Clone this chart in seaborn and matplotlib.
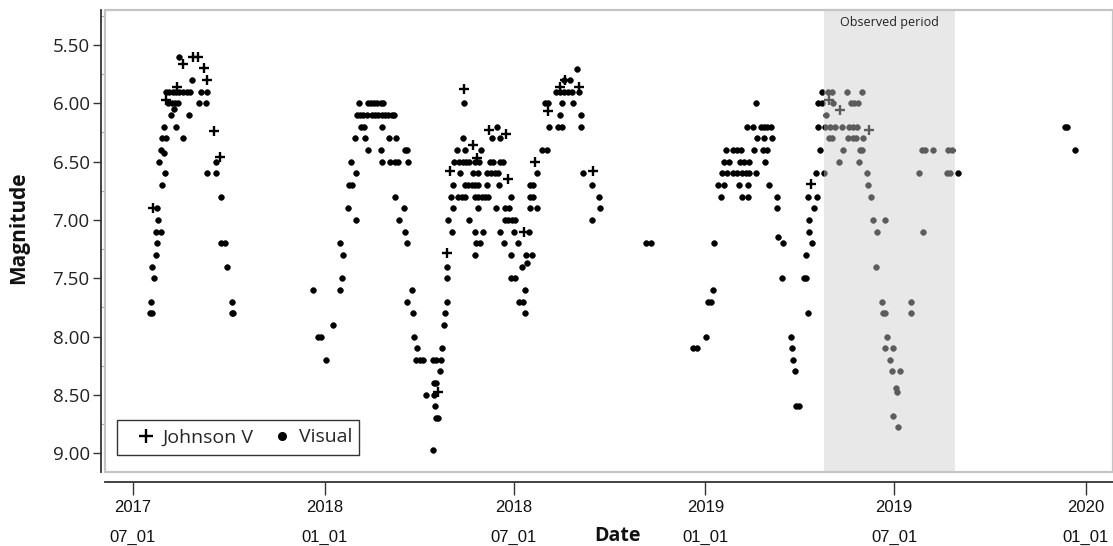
import numpy as np
import pandas as pd
import matplotlib
matplotlib.use("Agg")
import matplotlib.pyplot as plt
from matplotlib import font_manager as fm
from matplotlib.lines import Line2D
from matplotlib.patches import Rectangle
from matplotlib.ticker import MultipleLocator
import seaborn as sns

# ---------------- data (days since 2017-07-01, magnitude) ----------------
base_date = "2017-07-01"

visual_day = [
    # 2017 season
    44, 57,
    32, 35, 38, 41.5, 44.6, 47.8, 51.6, 54.8, 65, 70.7,
    34, 37, 40, 43.5, 63.3, 70,
    39.3, 36.4, 53.7, 30, 41, 28, 31.3, 47.6, 26.5, 29.7, 25.2, 79.3,
    31, 71, 79.3, 27.5, 84.4, 23.3, 24.3, 22.3, 26.8, 23, 84.4, 88.3,
    22, 17.9, 90.5, 19.8, 17.3, 95.3, 16, 17.8, 94.6, 96.2,
    # 2018 first season
    173, 177, 180, 185, 192, 198.6, 200, 201, 199, 206, 213.6, 207, 210, 214, 209,
    225, 237.6, 261, 263,
    213, 222.5, 245.5, 252.3,
    218.4, 221.6, 238.5,
    214.5, 217.7, 221, 224.8, 229, 232, 235, 238.5, 241.7, 245, 248, 250.3,
    217, 225, 228, 231, 234.4, 237.6, 240,
    238.5, 246.5, 251.3, 254.5, 264,
    251.3, 260, 255.5, 261, 262.5, 267.3, 262.5, 269, 269.5, 272,
    271.5, 275.3, 278, 287.4, 291, 295,
    296, 294, 288.7, 290.5, 281, 288.7, 289.7, 291, 292.2, 288, 298.3, 299,
    # 2018 second season
    317.7, 316.1, 310.4, 318.4, 333.7,
    308.1, 313, 316.1, 319.3, 322.5, 328, 332.1, 342.3, 345, 352, 355.1,
    313.6, 326.4, 331.1, 339.1, 343, 347.1, 350.3,
    348.7, 344, 352,
    307.2, 318.4, 321.6, 324.8, 328, 331.1, 339.1, 351,
    304.6, 312, 315.2, 318.4, 328, 331.1, 334.4, 337.5, 340.7, 362.2,
    306.5, 331.1, 348.1, 356.7, 360.9,
    301.7, 322.5, 356.7, 360, 363.1, 366.3,
    305.6, 328, 335.3, 352, 365.7, 380,
    329, 332.7, 355.8, 369.5,
    328, 362.2, 376.9, 382.3,
    300.8, 372.7, 378,
    300.8, 362.2, 366.3,
    375.9, 301.4, 370.5, 373.7, 376.2,
    380.7, 384, 380.7, 384, 380.7, 387, 387.7, 391.9, 396.7,
    395, 398.3, 411.7, 422.3,
    398.9, 407.9, 411.7, 429.6,
    409.5, 429.6,
    405.6, 409.5, 413.3, 417.5, 420.7, 428,
    413.3, 419, 426.1,
    431.9, 439.8, 446.9, 447.8, 439.8,
    492, 497,
    # 2019 season
    537.4, 540.5, 549.2, 551, 554, 555.9, 557.5, 597.5,
    588.5, 595, 602, 605.2, 608.4, 611.6,
    598, 605.2, 612.5,
    568.4, 575, 579, 583.1, 595.6, 604.5, 608.4,
    567.1, 572, 582.1, 586, 591.1, 606.1,
    564.6, 569.4, 575.8, 579.6, 583.7, 587.6, 591.1, 597.5,
    561.4, 567.1, 581.2, 590.1, 610.3,
    563.6, 583.7, 590.1, 617.3,
    618, 618.9, 623.7, 622.7,
    631, 631.7, 632.7, 634.9, 636, 638.5,
    647, 643.5, 645.5, 645.5, 650.9, 648.7, 648.7, 653.1, 647.7, 656.3,
    655, 662.7, 658.9, 657.3, 657.3, 661.1, 661.1,
    # observed period
    666.9, 670.7, 684.5, 698.8,
    671, 688.3, 691.5, 695.6,
    664.6,
    663.7, 668.5, 673.3, 679.7, 687, 690.9, 694.7,
    667.8, 670.7, 686.1, 690.2, 693.4, 700.4,
    680.6, 697.2, 698.8, 756.4, 759.6, 767.6, 782, 785.2,
    677.4, 696.6,
    703.6, 754.2, 780.4, 783.6, 790.9,
    705.2, 707.5, 710, 721.2, 713.9, 757.3, 712.6,
    718, 745.9, 719, 721.6, 745.9, 723.5, 721.2, 728.6, 726,
    727.6, 735.6, 731.8, 733.1, 729.2, 734,
    # late 2019
    893.8, 896, 903.4,
]

visual_mag = [
    # 2017 season
    5.6, 5.8,
    5.9, 5.9, 5.9, 5.9, 5.9, 5.9, 5.9, 5.9, 5.9, 5.9,
    6.0, 6.0, 6.0, 6.0, 6.0, 6.0,
    6.05, 6.1, 6.1, 6.2, 6.2, 6.3, 6.3, 6.3, 6.4, 6.43, 6.5, 6.5,
    6.6, 6.6, 6.6, 6.7, 6.8, 6.9, 7.0, 7.1, 7.1, 7.2, 7.2, 7.2,
    7.3, 7.4, 7.4, 7.5, 7.7, 7.7, 7.8, 7.8, 7.8, 7.8,
    # 2018 first season
    7.6, 8.0, 8.0, 8.2, 7.9, 7.6, 7.5, 7.3, 7.2, 6.9, 7.0, 6.7, 6.7, 6.6, 6.5,
    6.4, 6.4, 6.4, 6.4,
    6.3, 6.3, 6.3, 6.3,
    6.2, 6.2, 6.2,
    6.1, 6.1, 6.1, 6.1, 6.1, 6.1, 6.1, 6.1, 6.1, 6.1, 6.1, 6.1,
    6.0, 6.0, 6.0, 6.0, 6.0, 6.0, 6.0,
    6.5, 6.5, 6.5, 6.5, 6.5,
    6.8, 6.9, 7.0, 7.1, 7.2, 7.6, 7.7, 7.8, 8.0, 8.1,
    8.2, 8.2, 8.2, 8.2, 8.2, 8.2,
    8.1, 8.3, 8.4, 8.4, 8.5, 8.5, 8.6, 8.7, 8.7, 8.97, 7.9, 7.8,
    # 2018 second season
    6.0, 6.3, 6.4, 6.4, 6.4,
    6.5, 6.5, 6.5, 6.5, 6.5, 6.5, 6.5, 6.5, 6.5, 6.5, 6.5,
    6.6, 6.6, 6.6, 6.6, 6.6, 6.6, 6.6,
    6.2, 6.3, 6.3,
    6.7, 6.7, 6.7, 6.7, 6.7, 6.7, 6.7, 6.7,
    6.8, 6.8, 6.8, 6.8, 6.8, 6.8, 6.8, 6.8, 6.8, 6.8,
    6.9, 6.9, 6.9, 6.9, 6.9,
    7.0, 7.0, 7.0, 7.0, 7.0, 7.0,
    7.1, 7.1, 7.1, 7.1, 7.1, 7.1,
    7.2, 7.2, 7.2, 7.2,
    7.3, 7.3, 7.3, 7.3,
    7.4, 7.4, 7.37,
    7.5, 7.5, 7.5,
    7.6, 7.7, 7.7, 7.7, 7.8,
    6.7, 6.7, 6.8, 6.8, 6.9, 6.9, 6.6, 6.4, 6.4,
    6.0, 6.0, 6.0, 6.0,
    6.2, 6.2, 6.2, 6.2,
    6.1, 6.1,
    5.9, 5.9, 5.9, 5.9, 5.9, 5.9,
    5.8, 5.8, 5.71,
    6.6, 6.7, 6.8, 6.9, 7.0,
    7.2, 7.2,
    # 2019 season
    8.1, 8.1, 8.0, 7.7, 7.7, 7.6, 7.2, 6.0,
    6.2, 6.2, 6.2, 6.2, 6.2, 6.2,
    6.3, 6.3, 6.3,
    6.4, 6.4, 6.4, 6.4, 6.4, 6.4, 6.4,
    6.5, 6.5, 6.5, 6.5, 6.5, 6.5,
    6.6, 6.6, 6.6, 6.6, 6.6, 6.6, 6.6, 6.6,
    6.7, 6.7, 6.7, 6.7, 6.7,
    6.8, 6.8, 6.8, 6.8,
    6.9, 7.15, 7.2, 7.5,
    8.0, 8.1, 8.2, 8.3, 8.6, 8.6,
    7.8, 7.5, 7.5, 7.3, 7.2, 7.1, 7.0, 6.9, 6.8, 6.8,
    6.6, 6.6, 6.4, 6.2, 6.0, 6.0, 5.9,
    # observed period
    5.9, 5.9, 5.9, 5.9,
    6.0, 6.0, 6.0, 6.0,
    6.1,
    6.2, 6.2, 6.2, 6.2, 6.2, 6.2, 6.2,
    6.3, 6.3, 6.3, 6.3, 6.3, 6.3,
    6.4, 6.4, 6.4, 6.4, 6.4, 6.4, 6.4, 6.4,
    6.5, 6.5,
    6.6, 6.6, 6.6, 6.6, 6.6,
    6.7, 6.8, 7.0, 7.0, 7.1, 7.1, 7.4,
    7.7, 7.7, 7.8, 7.8, 7.8, 8.0, 8.1, 8.1, 8.2,
    8.3, 8.3, 8.44, 8.48, 8.68, 8.78,
    # late 2019
    6.2, 6.2, 6.4,
]

johnson_day = [57.2, 62.7, 48.2, 68.4, 70.7, 42.5, 31.7, 78, 83.4, 19.5,
               300.9, 292.9,
               317.7, 325.7, 330.2, 304, 341.7, 357.4, 360, 375.3, 385.5,
               397.6, 409.5, 427.4, 414.6, 441.4,
               650, 667.8, 678.1, 705.9]
johnson_mag = [5.6, 5.6, 5.66, 5.7, 5.8, 5.86, 5.97, 6.24, 6.46, 6.9,
               7.28, 8.48,
               5.88, 6.36, 6.47, 6.58, 6.23, 6.26, 6.65, 7.1, 6.5,
               6.07, 5.86, 5.86, 5.8, 6.58,
               6.69, 5.97, 6.06, 6.23]

observed_start_day = 663
observed_end_day = 788

tick_dates = ["2017-07-01", "2018-01-01", "2018-07-01", "2019-01-01", "2019-07-01", "2020-01-01"]
tick_years = ["2017", "2018", "2018", "2019", "2019", "2020"]
tick_days = ["07_01", "01_01", "07_01", "01_01", "07_01", "01_01"]
y_ticks = [5.5, 6.0, 6.5, 7.0, 7.5, 8.0, 8.5, 9.0]

# ---------------- build frames ----------------
t0 = pd.Timestamp(base_date)
def to_date(days):
    return t0 + pd.to_timedelta(np.asarray(days, dtype=float), unit="D")

vis = pd.DataFrame({"date": to_date(visual_day), "mag": visual_mag})
jv = pd.DataFrame({"date": to_date(johnson_day), "mag": johnson_mag})

# ---------------- plot ----------------
sns.set_theme(style="white")
plt.rcParams["font.family"] = ["Open Sans", "DejaVu Sans"]

avail = {f.name for f in fm.fontManager.ttflist}
if "Liberation Sans Narrow" in avail:
    xfont, xsize = "Liberation Sans Narrow", 14.5
else:
    xfont, xsize = "Liberation Sans", 12

W, H = 1113, 546
fig = plt.figure(figsize=(W / 100, H / 100), dpi=100)
ax = fig.add_axes([105 / W, 1 - 472 / H, 1008 / W, 462 / H])

sns.scatterplot(data=vis, x="date", y="mag", marker="o", s=17, color="black",
                edgecolor="black", linewidth=0.4, ax=ax, zorder=2, legend=False)
sns.scatterplot(data=jv, x="date", y="mag", marker="+", s=60, color="black",
                linewidth=1.7, ax=ax, zorder=2.5, legend=False)

ax.axvspan(to_date([observed_start_day])[0], to_date([observed_end_day])[0],
           color="#cdcdcd", alpha=0.45, lw=0, zorder=3)
ax.text(to_date([(observed_start_day + observed_end_day) / 2])[0], 0.972, "Observed period",
        transform=ax.get_xaxis_transform(), ha="center", va="center",
        fontsize=9, color="#222222", zorder=4)

ax.set_xlim(to_date([-26.85])[0], to_date([939.9])[0])
ax.set_ylim(9.162, 5.2)

ax.set_yticks(y_ticks, labels=[f"{v:.2f}" for v in y_ticks])
ax.yaxis.set_minor_locator(MultipleLocator(0.25))

# two-row date labels: year on major ticks, month_day on minor ticks at same spots
ax.xaxis.remove_overlapping_locs = False
xt = pd.to_datetime(tick_dates)
ax.set_xticks(xt, labels=tick_years)
ax.set_xticks(xt, labels=tick_days, minor=True)

ax.set_xlabel("")
ax.set_ylabel("")

for side in ["top", "right"]:
    ax.spines[side].set_visible(False)
ax.spines["left"].set_position(("outward", 3))
ax.spines["left"].set_color("#333333")
ax.spines["left"].set_linewidth(1.3)
ax.spines["bottom"].set_position(("outward", 7.5))
ax.spines["bottom"].set_color("#333333")
ax.spines["bottom"].set_linewidth(1.3)

ax.tick_params(axis="y", which="major", direction="out", length=6, width=1,
               color="#333333", pad=2, left=True, labelsize=13.5, labelcolor="#222222")
ax.tick_params(axis="y", which="minor", direction="in", length=2.5, width=0.8,
               color="#aaaaaa", left=True)
ax.tick_params(axis="x", which="major", direction="out", length=9.5, width=1,
               color="#333333", pad=3.5, bottom=True)
ax.tick_params(axis="x", which="minor", length=0, pad=34.5, bottom=True)
ax.tick_params(axis="x", which="both", labelsize=xsize, labelcolor="#111111",
               labelfontfamily=xfont)

# gray inner frame
ax.add_patch(Rectangle((0, 0), 1, 1, transform=ax.transAxes, fill=False,
                       edgecolor="#c4c4c4", lw=1.6, clip_on=False, zorder=5))

fig.text(19 / W, 1 - 228 / H, "Magnitude", rotation=90, ha="center", va="center",
         fontsize=15, fontweight="bold", color="#111111")
fig.text(617 / W, 1 - 536 / H, "Date", ha="center", va="center",
         fontsize=14, fontweight="bold", color="#111111")

# legend: box drawn explicitly, entries from a frameless legend
ax.add_patch(Rectangle((117 / W, 1 - 455 / H), 242 / W, 35 / H, transform=fig.transFigure,
                       facecolor="white", edgecolor="#333333", lw=1.0, clip_on=False, zorder=6))
handles = [Line2D([], [], marker="+", color="black", linestyle="none", markersize=9.5, markeredgewidth=1.7),
           Line2D([], [], marker="o", color="black", linestyle="none", markersize=5.5)]
leg = ax.legend(handles, ["Johnson V", "Visual"], loc="center left",
                bbox_to_anchor=(136 / W, 1 - 437.5 / H), bbox_transform=fig.transFigure,
                ncol=2, frameon=False, fontsize=14, borderaxespad=0, borderpad=0,
                handlelength=1.0, handletextpad=0.35, columnspacing=1.0)
leg.set_zorder(7)

fig.savefig("out.png", dpi=100)
